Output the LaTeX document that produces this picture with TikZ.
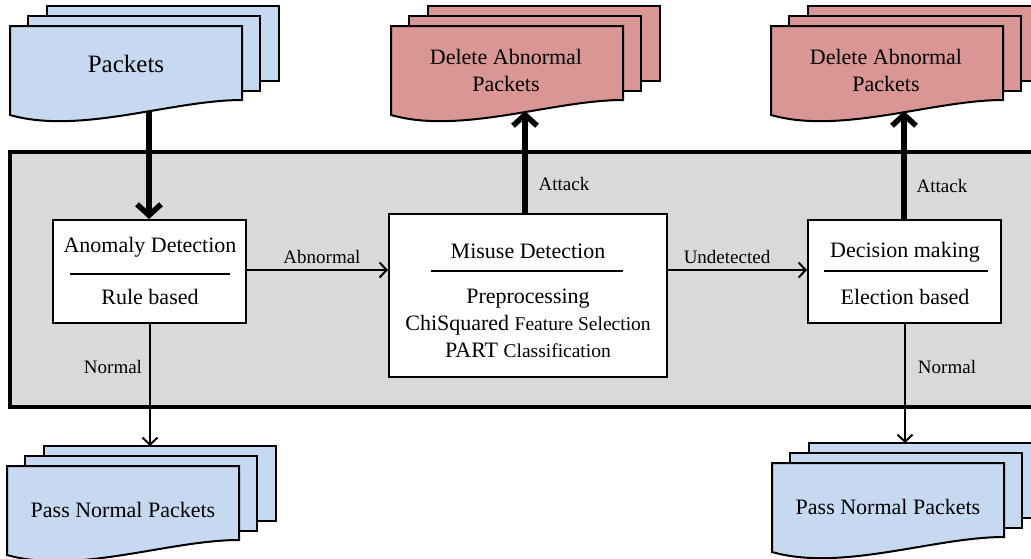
\documentclass[tikz,border=0pt]{standalone}
\usepackage{fontspec}
\setmainfont{Liberation Serif}
\usetikzlibrary{arrows.meta}
\definecolor{docblue}{HTML}{C6D9F1}
\definecolor{docred}{HTML}{D99694}
\definecolor{panelgray}{HTML}{D9D9D9}
\tikzset{
  docline/.style={line width=2pt, line join=miter},
  procbox/.style={draw, line width=2pt, fill=white, inner sep=0pt},
  sepline/.style={line width=2pt},
  thickarrow/.style={line width=5.5pt, -{Straight Barb[length=11pt,width=24pt]}},
  thinarrow/.style={line width=2pt, -{Straight Barb[length=7pt,width=15pt]}},
  maintext/.style={font=\fontsize{22}{27}\selectfont, align=center, inner sep=0pt},
  lbltext/.style={font=\fontsize{19}{22}\selectfont, inner sep=0pt},
}
\newcommand\docstack[3]{%
  \begin{scope}[shift={(#1,#2)}]
    \draw[docline,fill=#3] (37,-20) rectangle ++(232,75);
    \draw[docline,fill=#3] (18,-10.5) rectangle ++(232,75);
    \draw[docline,fill=#3] (0,0) -- (232,0) -- (232,74)
       .. controls (162,74) and (70,109) .. (0,89) -- cycle;
  \end{scope}}
\begin{document}
\begin{tikzpicture}[x=1pt,y=-1pt]
\clip (0,0) rectangle (1031,558);
\fill[white] (0,0) rectangle (1031,558);

% panel
\draw[line width=4pt, fill=panelgray] (10,152) rectangle (1050,407);

% stacks
\docstack{10}{26}{docblue}
\docstack{391}{26}{docred}
\docstack{771}{26}{docred}
\docstack{7}{466}{docblue}
\docstack{772}{463}{docblue}

\node[maintext, font=\fontsize{25}{30}\selectfont] (pk) at (126,64) {Packets};
\node[maintext] (del1) at (506,70.5) {Delete Abnormal\\Packets};
\node[maintext] (del2) at (886,70.5) {Delete Abnormal\\Packets};
\node[maintext] (pass1) at (123,510) {Pass Normal Packets};
\node[maintext] (pass2) at (888,507) {Pass Normal Packets};

\coordinate (pkb) at (149,112);
\coordinate (del1b) at (525,111);
\coordinate (del2b) at (904,111);
\coordinate (pass1t) at (150,446);
\coordinate (pass2t) at (905,443);

% boxes
\node[procbox, minimum width=193pt, minimum height=103pt] (anom) at (149.5,271.5) {};
\node[procbox, minimum width=278pt, minimum height=163pt] (mis) at (528,295.5) {};
\node[procbox, minimum width=193pt, minimum height=103pt] (dec) at (904.5,271.5) {};

\node[maintext] (anomT) at (150,247) {Anomaly Detection};
\draw[sepline] (70,274) -- (230,274);
\node[maintext] (anomB) at (150,297) {Rule based};

\node[maintext] (misT) at (528,251) {Misuse Detection};
\draw[sepline] (431,271) -- (623,271);
\node[maintext] (misB) at (528,323.5) {Preprocessing\\ChiSquared {\fontsize{19.5}{27}\selectfont Feature Selection}\\PART {\fontsize{19.5}{27}\selectfont Classification}};

\node[maintext] (decT) at (905,252) {Decision making};
\draw[sepline] (824,271) -- (988,271);
\node[maintext] (decB) at (905,297) {Election based};

% connectors
\draw[thickarrow] (pkb) -- (pkb |- anom.north);
\draw[thickarrow] (mis.north -| del1b) -- (del1b);
\draw[thickarrow] (dec.north -| del2b) -- (del2b);
\draw[thinarrow] (anom.east |- 0,270) -- (mis.west |- 0,270);
\draw[thinarrow] (mis.east |- 0,270) -- (dec.west |- 0,270);
\draw[thinarrow] (anom.south -| pass1t) -- (pass1t);
\draw[thinarrow] (dec.south -| pass2t) -- (pass2t);

% labels
\node[lbltext] (l1) at (322,257) {Abnormal};
\node[lbltext] (l2) at (727,257) {Undetected};
\node[lbltext] (l3) at (564,184) {Attack};
\node[lbltext] (l4) at (942,186) {Attack};
\node[lbltext] (l5) at (113,367) {Normal};
\node[lbltext] (l6) at (947,367) {Normal};
\end{tikzpicture}
\end{document}
